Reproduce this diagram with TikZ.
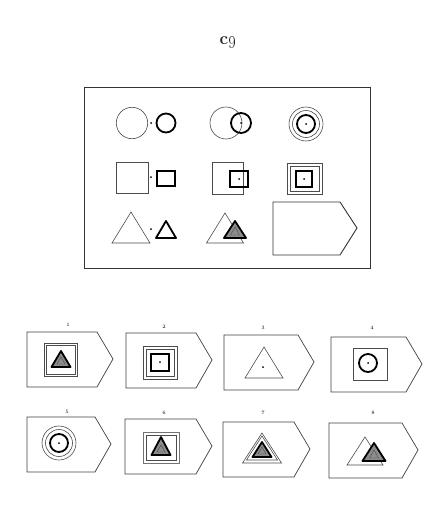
\documentclass[tikz,border=0pt]{standalone}
\begin{document}
\begin{tikzpicture}[x=1pt,y=-1pt,
  thinl/.style={line width=0.6pt,draw=black!70},
  boldl/.style={line width=1.8pt,draw=black},
  lbl/.style={font=\tiny,inner sep=0pt},
  pics/ansbox/.style={code={\draw[line width=0.7pt,black!75] (0,0) -- (#1-16,0) -- (#1,27) -- (#1-16,55) -- (0,55) -- cycle;}},
  tri/.style args={#1/#2/#3/#4}{insert path={(#1-#3/2,#2) -- (#1,#2-#4) -- (#1+#3/2,#2) -- cycle}}
]
\useasboundingbox (0,0) rectangle (435,514);
% title
\node[font=\LARGE\bfseries,inner sep=0pt,text=black!85] (title) at (228,42) {\textsc{c}\oldstylenums{9}};
% main frame
\draw[line width=0.9pt,black!80] (84,87) rectangle (370,268);
% row 1 circles
\draw[thinl] (132,123) circle[radius=15.7pt];
\draw[boldl] (166,123) circle[radius=9.5pt];
\fill (151,123) circle[radius=1pt];
\draw[thinl] (226,123) circle[radius=16pt];
\draw[boldl] (241,123) circle[radius=10pt];
\fill (241,123) circle[radius=1pt];
\draw[thinl] (306,124) circle[radius=17pt];
\draw[thinl] (306,124) circle[radius=13.5pt];
\draw[boldl] (306,124) circle[radius=9pt];
\fill (306,124) circle[radius=1pt];
% row 2 squares
\draw[thinl] (116,162) rectangle (148,193);
\draw[boldl] (157,171) rectangle (175,186);
\fill (151,177) circle[radius=1pt];
\draw[thinl] (212,162) rectangle (243,194);
\draw[boldl] (230,171) rectangle (248,187);
\fill (239,179) circle[radius=1pt];
\draw[thinl] (287,163) rectangle (322,194);
\draw[thinl] (290,166) rectangle (319,191);
\draw[boldl] (296,171) rectangle (312,187);
\fill (304,179) circle[radius=1pt];
% row 3 triangles
\draw[thinl,tri=131/243/38/31];
\fill (151,229) circle[radius=1pt];
\draw[boldl,line join=round,tri=166/238/20/17];
\draw[thinl,tri=225/243/37/30];
\draw[boldl,fill=black!45,line join=round,tri=235/238/22/17];
\draw[line width=0.4pt,black!70,tri=235/235/9/8];
% empty answer slot
\draw[line width=0.9pt,black!80] (273,202) -- (340,202) -- (357,228) -- (340,255) -- (273,255) -- cycle;

% answer boxes row 1
\pic at (27,332) {ansbox=86};
\node[lbl] (l1) at (68,325) {1};
\draw[thinl] (44,343) rectangle (77,376);
\draw[thinl] (46,345) rectangle (75,374);
\draw[boldl,fill=black!45,line join=round,tri=61/367/19/16];
\draw[line width=0.4pt,black!70,tri=61/364/8/7];

\pic at (126,333) {ansbox=86};
\node[lbl] (l2) at (164,327) {2};
\draw[thinl] (143,346) rectangle (177,379);
\draw[thinl] (146,349) rectangle (174,376);
\draw[boldl] (151,354) rectangle (169,371);
\fill (160,362) circle[radius=1pt];

\pic at (224,335) {ansbox=90};
\node[lbl] (l3) at (263,328) {3};
\draw[thinl,tri=264/378/38/31];
\fill (263,367) circle[radius=1pt];

\pic at (331,337) {ansbox=91};
\node[lbl] (l4) at (372,328) {4};
\draw[thinl] (353,348) rectangle (387,380);
\draw[boldl] (368,363) circle[radius=9pt];
\fill (368,363) circle[radius=1pt];

% answer boxes row 2
\pic at (27,417) {ansbox=84};
\node[lbl] (l5) at (67,412) {5};
\draw[thinl] (59,443) circle[radius=17pt];
\draw[thinl] (59,443) circle[radius=13.5pt];
\draw[boldl] (59,443) circle[radius=9pt];
\fill (59,443) circle[radius=1pt];

\pic at (125,419) {ansbox=87};
\node[lbl] (l6) at (164,413) {6};
\draw[line width=1pt,black!55] (143,432) rectangle (179,463);
\draw[thinl] (146,435) rectangle (176,460);
\draw[boldl,fill=black!45,line join=round,tri=161/455/19/18];
\draw[line width=0.4pt,black!70,tri=161/452/8/7];

\pic at (223,422) {ansbox=87};
\node[lbl] (l7) at (263,413) {7};
\draw[thinl,tri=262/463/39/30];
\draw[thinl,tri=262/460/31/24];
\draw[boldl,fill=black!45,line join=round,tri=262/457/19/15];
\draw[line width=0.4pt,black!70,tri=262/454/8/7];

\pic at (329,423) {ansbox=89};
\node[lbl] (l8) at (373,413) {8};
\draw[thinl,tri=365/465/36/28];
\draw[boldl,fill=black!45,line join=round,tri=374/461/23/18];
\draw[line width=0.4pt,black!70,tri=374/458/9/8];
\end{tikzpicture}
\end{document}
